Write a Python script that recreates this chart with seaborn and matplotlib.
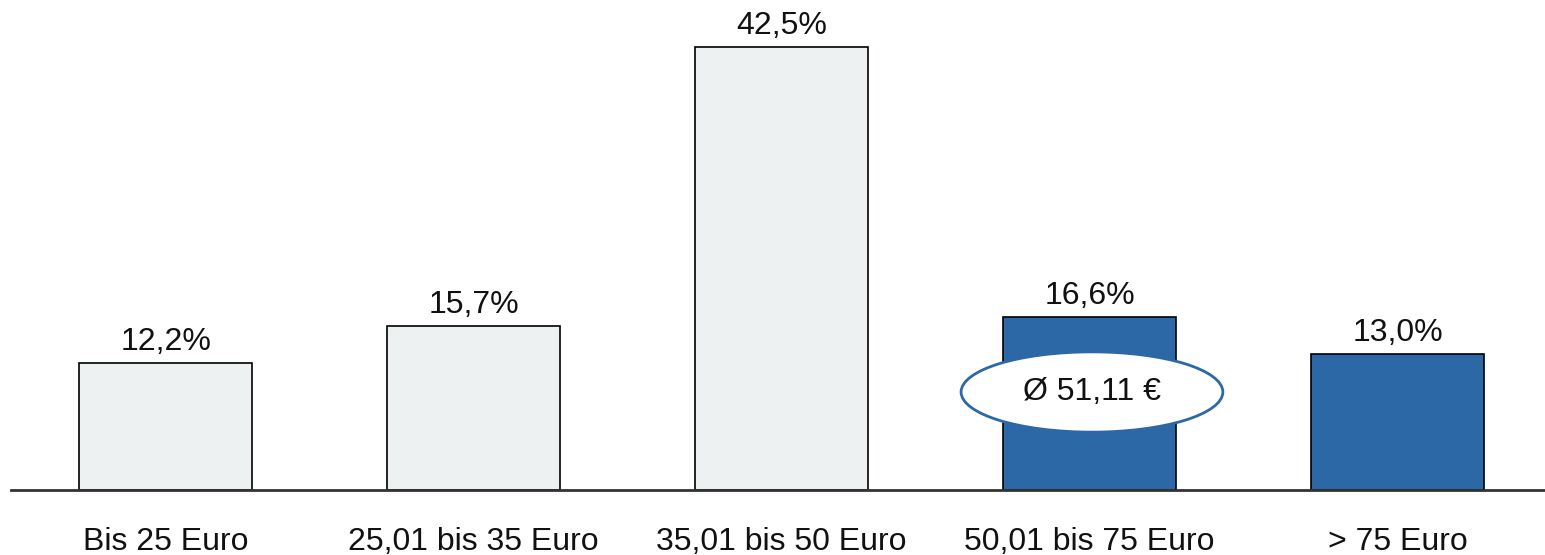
import matplotlib
matplotlib.use("Agg")
import matplotlib.pyplot as plt
import seaborn as sns
import pandas as pd
from matplotlib.patches import Ellipse

categories = ["Bis 25 Euro", "25,01 bis 35 Euro", "35,01 bis 50 Euro", "50,01 bis 75 Euro", "> 75 Euro"]
values = [12.2, 15.7, 42.5, 16.6, 13.0]
labels = ["12,2%", "15,7%", "42,5%", "16,6%", "13,0%"]
groups = ["low", "low", "low", "high", "high"]
average_label = "Ø 51,11 €"

sns.set_theme(style="white")
plt.rcParams['font.family'] = ['Liberation Sans', 'DejaVu Sans']

df = pd.DataFrame({"cat": categories, "val": values, "grp": groups})

fig = plt.figure(figsize=(15.45, 5.55), dpi=100)
ax = fig.add_axes([11/1545, 65/555, 1 - 11/1545, 490/555])

sns.barplot(data=df, x="cat", y="val", hue="grp",
            palette={"low": "#EDF1F2", "high": "#2D68A6"}, saturation=1,
            dodge=False, width=0.56, edgecolor="black", linewidth=1.2,
            legend=False, ax=ax, zorder=2)

for i, (v, t) in enumerate(zip(values, labels)):
    ax.text(i, v + 0.6, t, ha="center", va="bottom", fontsize=23, color="#111111")

ell = Ellipse((3.008, 9.4), 0.85, 7.7, facecolor="white", edgecolor="#2D68A6",
              linewidth=2, zorder=5)
ax.add_patch(ell)
ax.text(3.008, 9.4, average_label, ha="center", va="center", fontsize=23,
        color="#111111", zorder=6)

ax.set_xlim(-0.502, 4.479)
ax.set_ylim(0, 47.0)
ax.set_xlabel("")
ax.set_ylabel("")
ax.set_yticks([])
for s in ["top", "right", "left"]:
    ax.spines[s].set_visible(False)
ax.spines["bottom"].set_color("#333333")
ax.spines["bottom"].set_linewidth(2)
ax.tick_params(axis="x", length=0, labelsize=23, pad=27, colors="#111111")

fig.savefig("out.png", dpi=100)
